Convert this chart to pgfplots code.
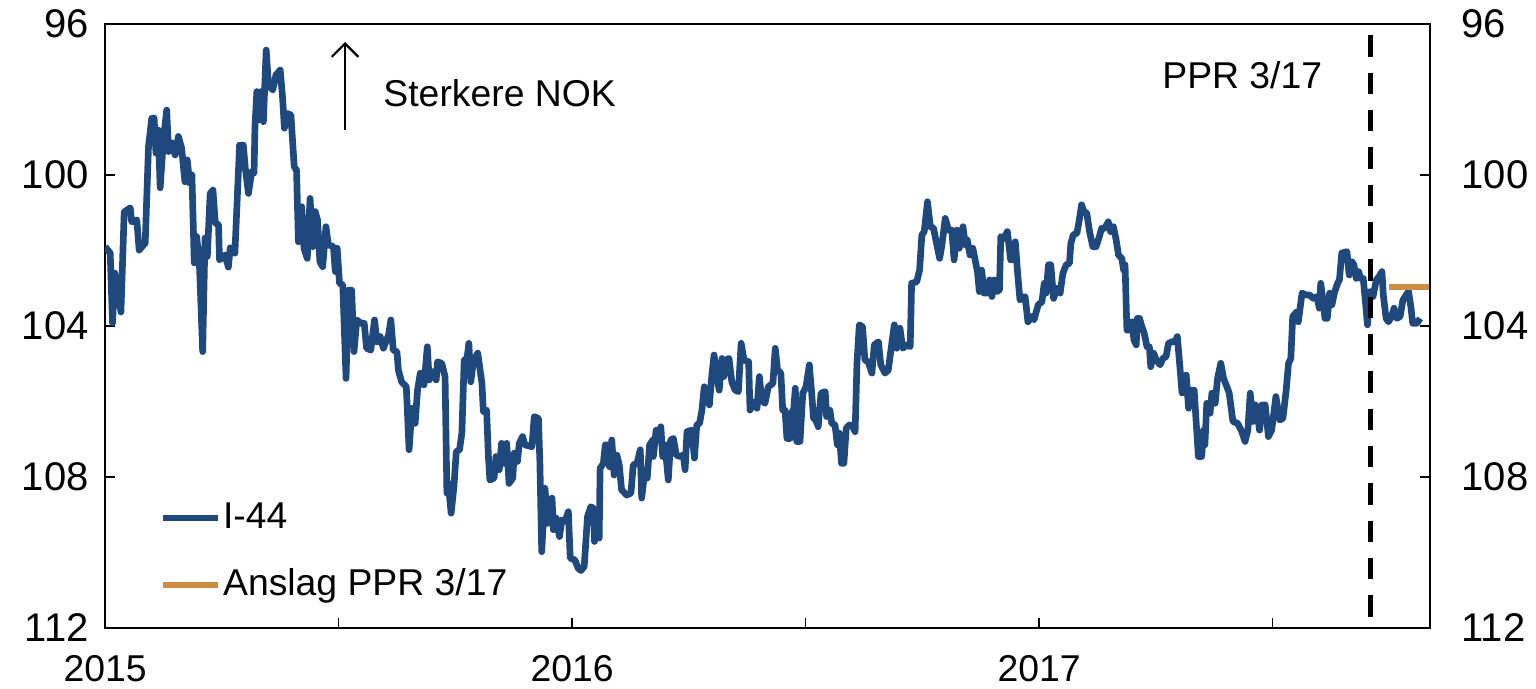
\documentclass[border=0pt]{standalone}
\usepackage{fontspec}
\setmainfont{Liberation Sans}
\usepackage{pgfplots}
\pgfplotsset{compat=1.18}
\usetikzlibrary{arrows.meta}
\definecolor{ppblue}{RGB}{31,73,125}
\definecolor{pporange}{RGB}{206,140,66}

% I-44, weekly-ish readings (decimal year, index; lower = stronger NOK)
\pgfplotstableread{
x y
2015.000 101.90
2015.011 102.07
2015.016 103.92
2015.021 102.60
2015.028 103.10
2015.034 103.63
2015.041 100.98
2015.054 100.87
2015.057 101.24
2015.068 101.19
2015.073 101.99
2015.086 101.80
2015.093 99.25
2015.100 98.50
2015.105 98.49
2015.109 99.42
2015.114 98.81
2015.118 100.34
2015.125 99.07
2015.132 98.28
2015.136 99.38
2015.143 99.15
2015.150 99.47
2015.157 98.98
2015.164 99.29
2015.171 100.18
2015.176 99.60
2015.181 100.21
2015.186 100.00
2015.191 102.33
2015.196 101.63
2015.202 102.33
2015.209 104.68
2015.214 101.67
2015.219 102.16
2015.225 100.49
2015.231 100.40
2015.236 101.27
2015.243 101.32
2015.245 102.25
2015.257 102.12
2015.264 102.44
2015.268 101.93
2015.278 102.07
2015.288 99.21
2015.296 99.21
2015.300 99.78
2015.307 100.49
2015.314 99.91
2015.319 99.95
2015.321 98.72
2015.325 97.79
2015.330 98.54
2015.334 97.79
2015.339 98.59
2015.345 96.69
2015.350 97.62
2015.359 97.75
2015.366 97.35
2015.375 97.22
2015.380 97.93
2015.384 98.76
2015.390 98.37
2015.398 98.41
2015.405 99.78
2015.410 99.87
2015.414 101.77
2015.421 100.84
2015.426 101.94
2015.433 102.21
2015.439 100.62
2015.445 101.90
2015.450 100.97
2015.455 101.19
2015.460 102.30
2015.466 102.43
2015.473 101.37
2015.478 101.85
2015.489 101.90
2015.493 102.56
2015.497 101.94
2015.502 102.87
2015.509 102.91
2015.516 105.39
2015.521 103.05
2015.528 103.05
2015.533 104.68
2015.539 103.84
2015.548 103.93
2015.555 103.93
2015.560 104.59
2015.569 104.64
2015.577 103.84
2015.582 104.42
2015.589 104.28
2015.596 104.59
2015.607 104.24
2015.612 103.84
2015.617 104.64
2015.625 104.68
2015.628 105.17
2015.635 105.48
2015.645 105.61
2015.651 107.28
2015.657 106.18
2015.664 106.58
2015.669 105.70
2015.675 105.25
2015.683 105.56
2015.690 104.55
2015.694 105.43
2015.702 105.21
2015.709 105.43
2015.712 104.95
2015.721 104.99
2015.728 105.34
2015.732 108.43
2015.735 108.17
2015.741 108.96
2015.747 108.26
2015.752 107.33
2015.759 107.28
2015.764 106.84
2015.769 104.90
2015.775 104.86
2015.779 104.46
2015.783 105.48
2015.789 104.90
2015.798 104.72
2015.807 105.52
2015.810 106.27
2015.817 106.23
2015.821 107.50
2015.824 108.08
2015.833 108.03
2015.837 107.46
2015.844 107.81
2015.849 107.11
2015.855 107.64
2015.860 107.11
2015.865 108.17
2015.873 108.03
2015.876 107.37
2015.883 107.59
2015.887 107.11
2015.894 106.93
2015.899 107.15
2015.914 107.20
2015.919 106.40
2015.928 106.45
2015.931 107.59
2015.935 109.98
2015.942 108.30
2015.947 109.23
2015.957 108.56
2015.960 109.40
2015.966 109.09
2015.973 109.58
2015.978 109.14
2015.985 109.18
2015.992 108.92
2015.996 110.15
2016.006 110.20
2016.013 110.42
2016.019 110.48
2016.026 110.37
2016.033 109.05
2016.040 108.79
2016.046 108.83
2016.048 109.71
2016.053 109.36
2016.058 109.62
2016.060 107.77
2016.067 107.64
2016.071 107.15
2016.076 107.15
2016.080 107.73
2016.085 107.02
2016.090 107.95
2016.096 107.42
2016.101 107.68
2016.106 108.34
2016.117 108.48
2016.126 108.43
2016.131 107.68
2016.139 107.64
2016.146 107.28
2016.149 108.56
2016.156 107.81
2016.161 108.03
2016.166 107.15
2016.173 107.02
2016.174 107.46
2016.180 106.76
2016.185 107.02
2016.190 106.67
2016.194 107.46
2016.199 107.15
2016.206 108.08
2016.211 107.02
2016.217 106.98
2016.223 107.42
2016.231 107.46
2016.238 107.42
2016.242 107.81
2016.246 106.80
2016.256 106.76
2016.262 107.50
2016.267 106.62
2016.273 106.58
2016.278 106.23
2016.283 105.61
2016.288 105.87
2016.294 106.09
2016.299 105.34
2016.304 104.77
2016.310 105.34
2016.315 105.70
2016.321 104.86
2016.325 105.34
2016.330 104.90
2016.336 104.86
2016.342 105.48
2016.349 105.70
2016.356 105.74
2016.362 104.46
2016.368 104.90
2016.378 104.95
2016.381 106.23
2016.388 106.01
2016.396 106.18
2016.401 105.34
2016.406 105.96
2016.413 106.05
2016.420 105.61
2016.430 105.52
2016.435 104.59
2016.440 105.17
2016.447 105.25
2016.451 106.23
2016.456 106.23
2016.460 106.98
2016.467 106.98
2016.470 106.27
2016.474 106.31
2016.478 105.65
2016.481 107.06
2016.488 107.06
2016.494 105.78
2016.501 105.61
2016.508 105.03
2016.513 105.78
2016.517 106.45
2016.522 106.49
2016.527 106.67
2016.533 105.78
2016.542 105.74
2016.545 106.40
2016.552 106.23
2016.556 106.58
2016.563 106.62
2016.568 107.15
2016.572 106.84
2016.577 107.64
2016.582 107.64
2016.587 106.71
2016.594 106.62
2016.601 106.67
2016.606 106.80
2016.610 104.99
2016.615 103.97
2016.622 104.02
2016.627 104.90
2016.634 104.95
2016.642 105.25
2016.647 104.50
2016.656 104.42
2016.661 105.03
2016.670 105.25
2016.677 105.17
2016.685 104.42
2016.690 103.97
2016.695 104.59
2016.702 104.06
2016.708 104.59
2016.717 104.50
2016.724 104.55
2016.727 102.87
2016.738 102.83
2016.744 102.52
2016.749 101.59
2016.754 101.50
2016.761 100.71
2016.767 101.37
2016.774 101.41
2016.781 101.85
2016.787 102.21
2016.792 101.85
2016.799 101.15
2016.806 101.46
2016.813 101.46
2016.818 102.25
2016.824 101.46
2016.829 101.94
2016.837 101.37
2016.842 101.85
2016.846 101.72
2016.852 102.12
2016.858 101.94
2016.863 102.25
2016.868 102.56
2016.872 103.09
2016.877 102.52
2016.882 103.13
2016.889 103.13
2016.894 102.78
2016.899 103.22
2016.904 102.78
2016.909 103.09
2016.915 103.05
2016.918 101.63
2016.925 101.68
2016.932 101.50
2016.939 102.25
2016.945 102.25
2016.949 101.77
2016.954 102.60
2016.959 103.31
2016.970 103.22
2016.976 103.89
2016.984 103.75
2016.989 103.84
2016.998 103.44
2017.006 103.36
2017.011 102.87
2017.015 103.13
2017.020 102.38
2017.025 102.38
2017.031 103.27
2017.038 103.00
2017.045 103.13
2017.051 102.60
2017.058 102.38
2017.065 102.34
2017.068 101.81
2017.073 101.59
2017.081 101.54
2017.086 101.19
2017.091 100.79
2017.096 100.97
2017.102 101.01
2017.108 101.50
2017.115 101.90
2017.122 101.90
2017.129 101.63
2017.134 101.41
2017.141 101.41
2017.148 101.24
2017.153 101.50
2017.159 101.37
2017.165 101.72
2017.170 102.12
2017.177 102.21
2017.181 102.52
2017.184 102.38
2017.188 104.11
2017.193 104.11
2017.199 103.89
2017.203 104.37
2017.208 104.50
2017.210 103.80
2017.215 103.80
2017.220 104.02
2017.225 104.19
2017.231 104.55
2017.236 104.55
2017.239 105.08
2017.245 104.72
2017.251 104.90
2017.259 105.03
2017.265 104.86
2017.272 104.81
2017.277 104.46
2017.284 104.42
2017.291 104.42
2017.296 104.28
2017.302 105.17
2017.306 105.78
2017.310 105.74
2017.315 105.30
2017.320 106.18
2017.325 105.70
2017.332 105.70
2017.336 106.49
2017.341 107.46
2017.348 107.46
2017.352 106.76
2017.355 107.15
2017.359 106.05
2017.366 106.31
2017.370 105.78
2017.377 106.05
2017.382 105.39
2017.389 104.99
2017.395 105.39
2017.402 105.61
2017.407 105.78
2017.415 106.53
2017.425 106.58
2017.434 106.80
2017.441 107.06
2017.447 106.76
2017.452 105.78
2017.458 106.53
2017.463 106.09
2017.467 106.27
2017.472 106.76
2017.477 106.09
2017.484 106.09
2017.491 106.93
2017.498 106.76
2017.507 105.87
2017.515 106.49
2017.522 106.45
2017.529 105.70
2017.534 104.99
2017.539 104.86
2017.543 103.75
2017.552 103.62
2017.555 103.89
2017.563 103.13
2017.572 103.18
2017.579 103.18
2017.587 103.27
2017.595 103.22
2017.600 103.53
2017.603 102.87
2017.609 103.44
2017.612 103.80
2017.617 103.80
2017.622 103.13
2017.627 103.44
2017.632 103.13
2017.639 102.87
2017.643 102.78
2017.648 102.07
2017.659 102.03
2017.664 102.65
2017.670 102.30
2017.674 102.38
2017.679 102.74
2017.684 102.56
2017.689 102.74
2017.694 102.74
2017.700 103.53
2017.703 103.97
2017.709 103.09
2017.715 103.22
2017.722 102.78
2017.728 102.69
2017.734 102.56
2017.737 103.18
2017.743 103.80
2017.748 103.89
2017.755 103.75
2017.760 103.53
2017.766 103.80
2017.773 103.75
2017.779 103.31
2017.786 103.18
2017.791 103.09
2017.796 103.49
2017.800 103.93
2017.809 103.93
2017.816 103.80
}\ifourtab

\pgfplotstableread{
x y
2017.750 102.96
2017.837 102.96
}\anslagtab

\begin{document}
\fontsize{14}{17}\selectfont
\begin{tikzpicture}
% frame of the whole picture, same proportions as the reference
\useasboundingbox (-39.4pt,-22.9pt) rectangle (536.65pt,235.5pt);
\pgfplotsset{
  base/.style={
    scale only axis, width=496.9pt, height=226.5pt,
    at={(0pt,0pt)}, anchor=south west,
    xmin=2015, xmax=2017.837, ymin=96, ymax=112, y dir=reverse,
    ytick={96,100,104,108,112},
    tick align=inside,
    major tick length=3.75pt, minor tick length=3.75pt,
    tick style={black, line width=0.6pt},
    axis line style={line width=0.75pt},
    yticklabel style={font=\fontsize{15}{18}\selectfont},
    xticklabel style={font=\fontsize{14}{17}\selectfont},
    /pgf/number format/assume math mode=true,
  }
}
\begin{axis}[
  base,
  xtick={2015,2016,2017}, xticklabels={2015,2016,2017},
  minor xtick={2015.5,2016.5,2017.5},
  xtick pos=bottom, ytick pos=left,
  xticklabel style={yshift=-5.5pt},
  yticklabel style={xshift=-1.3pt},
  legend style={draw=none, fill=none, at={(0.041,0.035)}, anchor=south west,
    font=\fontsize{14}{17}\selectfont, row sep=9pt, inner sep=0pt,
    nodes={inner xsep=0.6pt}},
  legend cell align=left,
  legend image code/.code={\draw[#1] (0pt,0pt) -- (20.6pt,0pt);},
]
\addplot[ppblue, line width=2.5pt, line join=round] table {\ifourtab};
\addlegendentry{I-44}
\addplot[pporange, line width=2.2pt] table {\anslagtab};
\addlegendentry{Anslag PPR 3/17}
\addplot[black, line width=1.9pt, dash pattern=on 8pt off 6pt, forget plot]
  coordinates {(2017.709,96.3) (2017.709,111.8)};
\draw[line width=0.8pt, -{Straight Barb[length=5pt,width=10pt]}]
  (axis cs:2015.514,98.81) -- (axis cs:2015.514,96.48);
\node[anchor=west, inner sep=0pt] at (axis cs:2015.595,97.83) {Sterkere NOK};
\node[inner sep=0pt] at (axis cs:2017.435,97.35) {PPR 3/17};
\end{axis}
\begin{axis}[
  base,
  axis x line=none, axis y line*=right,
  xtick=\empty,
  yticklabel style={xshift=7pt},
]
\end{axis}
\end{tikzpicture}
\end{document}
